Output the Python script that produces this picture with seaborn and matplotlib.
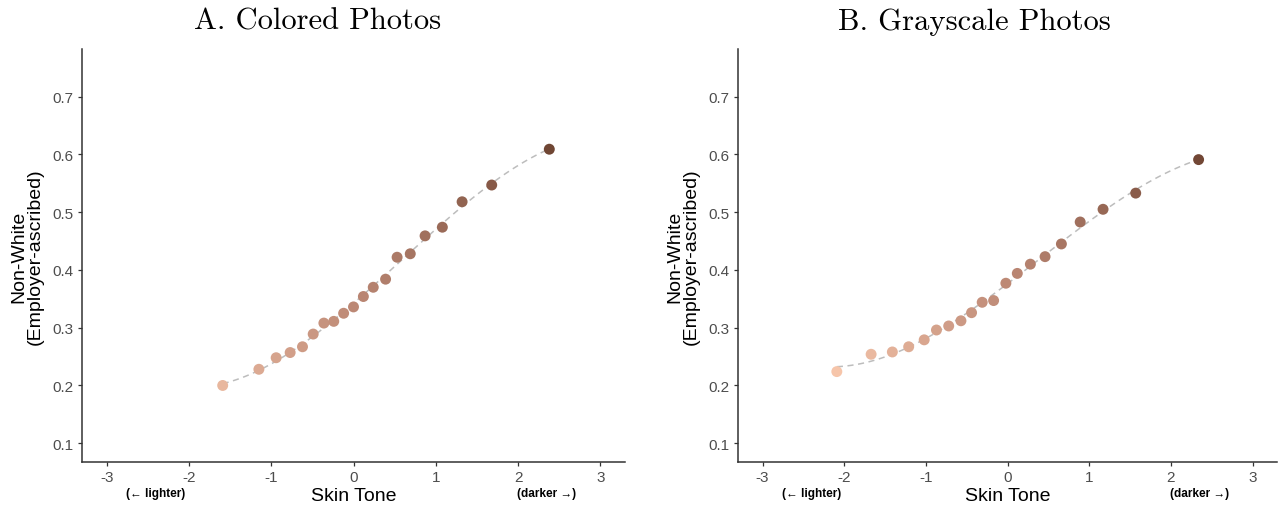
import numpy as np
import pandas as pd
import matplotlib
matplotlib.use("Agg")
import matplotlib.pyplot as plt
import matplotlib.transforms as mtransforms
from matplotlib.colors import LinearSegmentedColormap, Normalize
import seaborn as sns

# ---- data ----
colored_x = [-1.59, -1.15, -0.94, -0.77, -0.62, -0.49, -0.36, -0.24, -0.12, 0.00,
             0.12, 0.24, 0.39, 0.53, 0.69, 0.87, 1.08, 1.32, 1.68, 2.38]
colored_y = [0.200, 0.228, 0.248, 0.257, 0.267, 0.289, 0.308, 0.311, 0.325, 0.336,
             0.354, 0.370, 0.384, 0.422, 0.428, 0.459, 0.474, 0.518, 0.547, 0.609]

gray_x = [-2.09, -1.67, -1.41, -1.21, -1.02, -0.87, -0.72, -0.57, -0.44, -0.31,
          -0.17, -0.02, 0.12, 0.28, 0.46, 0.66, 0.89, 1.17, 1.57, 2.34]
gray_y = [0.224, 0.254, 0.258, 0.267, 0.279, 0.296, 0.303, 0.312, 0.326, 0.344,
          0.347, 0.377, 0.394, 0.410, 0.423, 0.445, 0.483, 0.505, 0.533, 0.591]

titles = ["A. Colored Photos", "B. Grayscale Photos"]
x_ticks = [-3, -2, -1, 0, 1, 2, 3]
y_ticks = [0.1, 0.2, 0.3, 0.4, 0.5, 0.6, 0.7]

sns.set_theme(style="white")
plt.rcParams['font.family'] = ['Liberation Sans', 'DejaVu Sans']

cmap = LinearSegmentedColormap.from_list("skin", ["#f9c8ad", "#b98572", "#6e4432"])
norm = Normalize(vmin=-2.2, vmax=2.45)

fig = plt.figure(figsize=(12.78, 5.06), dpi=100)
ax1 = fig.add_axes([82/1278, 1-463/506, (625-82)/1278, (463-50)/506])
ax2 = fig.add_axes([738/1278, 1-463/506, (1277-738)/1278, (463-50)/506])

panels = [(ax1, colored_x, colored_y, 318, titles[0]),
          (ax2, gray_x, gray_y, 974, titles[1])]
for ax, xs, ys, tx, title in panels:
    df = pd.DataFrame({"x": xs, "y": ys})
    sns.regplot(data=df, x="x", y="y", order=3, ci=None, scatter=False, truncate=True,
                ax=ax, line_kws=dict(color="#bdbdbd", lw=1.1, linestyle=(0, (4, 3))))
    sns.scatterplot(data=df, x="x", y="y", hue="x", palette=cmap, hue_norm=norm,
                    s=62, linewidth=0, legend=False, ax=ax, zorder=3)
    ax.set_xlim(-3.3, 3.3)
    ax.set_ylim(0.0675, 0.7825)
    ax.set_xticks(x_ticks)
    ax.set_xticklabels([str(t) for t in x_ticks])
    ax.set_yticks(y_ticks)
    ax.set_yticklabels([f"{t:.1f}" for t in y_ticks])
    for s in ["top", "right"]:
        ax.spines[s].set_visible(False)
    for s in ["left", "bottom"]:
        ax.spines[s].set_color("#333333")
        ax.spines[s].set_linewidth(1.1)
    ax.tick_params(axis="both", which="both", length=3, width=0.9, color="#333333",
                   labelsize=11, labelcolor="#4d4d4d", pad=3, bottom=True, left=True)
    ax.set_xlabel("Skin Tone", fontsize=14, color="black", labelpad=2)
    ax.set_ylabel("Non-White\n(Employer-ascribed)", fontsize=14, color="black",
                  labelpad=6, linespacing=1.0)
    trans = mtransforms.blended_transform_factory(ax.transData, fig.transFigure)
    ax.text(-2.4, 1-494/506, "(\u2190 lighter)", transform=trans, ha="center", va="center",
            fontsize=8.5, fontweight="bold", color="black")
    ax.text(2.35, 1-494/506, "(darker \u2192)", transform=trans, ha="center", va="center",
            fontsize=8.5, fontweight="bold", color="black")
    fig.text(tx/1278, 1-22/506, title, ha="center", va="center",
             fontsize=22, family="cmr10", color="black")

fig.savefig("out.png", dpi=100)
